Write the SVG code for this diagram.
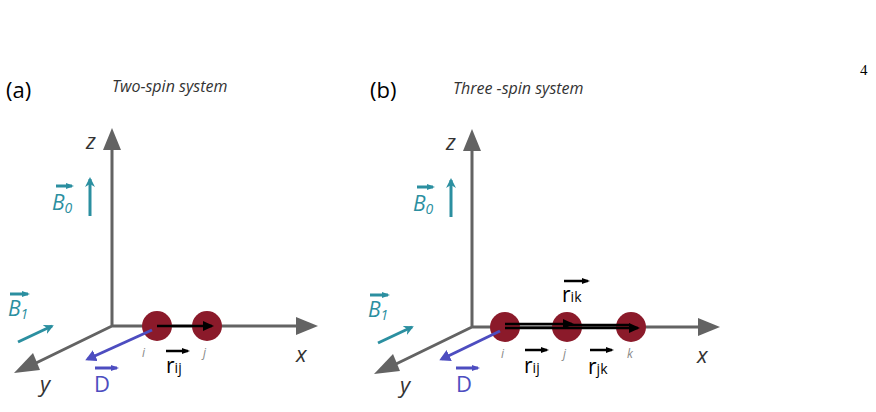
<svg xmlns="http://www.w3.org/2000/svg" width="876" height="412" viewBox="0 0 876 412">
<style>
.ax{stroke:#636363;stroke-width:3;fill:none}
.ah{fill:#636363}
.sp{fill:#8b1a2a}
.t{font-family:"Open Sans","Liberation Sans",sans-serif}
.teal{fill:#2b8fa0;font-family:"Open Sans","Liberation Sans",sans-serif;font-style:italic}
.tl{stroke:#2b8fa0;stroke-width:3}
.bl{stroke:#4d4dc0;stroke-width:3}
.k{stroke:#000;stroke-width:2.5}
.lab{font-family:"Open Sans","Liberation Sans",sans-serif;font-style:italic;fill:#888;font-size:12px}
</style>
<defs>
<marker id="mt" markerWidth="12" markerHeight="12" refX="8" refY="6" orient="auto" markerUnits="userSpaceOnUse"><path d="M0,1L10,6L0,11L3,6z" fill="#2b8fa0"/></marker>
<marker id="mb" markerWidth="12" markerHeight="12" refX="8" refY="6" orient="auto" markerUnits="userSpaceOnUse"><path d="M0,0L11,6L0,12z" fill="#4d4dc0"/></marker>
<marker id="mk" markerWidth="12" markerHeight="10" refX="9" refY="5" orient="auto" markerUnits="userSpaceOnUse"><path d="M0,0L11,5L0,10z" fill="#000"/></marker>
<marker id="ms" markerWidth="8" markerHeight="8" refX="6" refY="4" orient="auto" markerUnits="userSpaceOnUse"><path d="M0,1L8,4L0,7z" fill="#000"/></marker>
<marker id="mbs" markerWidth="8" markerHeight="8" refX="6" refY="4" orient="auto" markerUnits="userSpaceOnUse"><path d="M0,1L8,4L0,7z" fill="#4d4dc0"/></marker>
<marker id="mts" markerWidth="8" markerHeight="8" refX="6" refY="4" orient="auto" markerUnits="userSpaceOnUse"><path d="M0,1L8,4L0,7z" fill="#2b8fa0"/></marker>
</defs>
<text x="860" y="75" font-family="Liberation Serif,serif" font-size="15">4</text>
<g id="panel-a">
<text class="t" x="6" y="98" font-size="22">(a)</text>
<text class="t" x="112" y="92" font-size="16" font-style="italic" fill="#333">Two-spin system</text>
<g id="axes-a">
<path class="ax" d="M112,326V148M112,326H298M112,326L36,363"/>
<path class="ah" d="M103,150L112,128L121,150z"/>
<path class="ah" d="M296,317L318,326L296,335z"/>
<path class="ah" d="M33,353L14,373L40,370z"/>
<text class="t" x="86" y="149" font-size="22" font-style="italic" fill="#333">z</text>
<text class="t" x="296" y="362" font-size="22" font-style="italic" fill="#333">x</text>
<text class="t" x="40" y="392" font-size="22" font-style="italic" fill="#333">y</text>
</g>
<g id="B0-a"><text class="teal" x="52" y="210" font-size="21">B<tspan font-size="14" dy="3">0</tspan></text>
<line class="tl" x1="56" y1="186" x2="72" y2="186" stroke-width="2" marker-end="url(#mts)"/>
<line class="tl" x1="90" y1="216" x2="90" y2="179" marker-end="url(#mt)"/></g>
<g id="B1-a"><text class="teal" x="8" y="316" font-size="21">B<tspan font-size="14" dy="3">1</tspan></text>
<line class="tl" x1="10" y1="294" x2="28" y2="294" stroke-width="2" marker-end="url(#mts)"/>
<line class="tl" x1="18" y1="342" x2="52" y2="326" marker-end="url(#mt)"/></g>
<g id="spin-i-a"><circle class="sp" cx="157" cy="326" r="15"/><text class="lab" x="142" y="357">i</text></g>
<g id="spin-j-a"><circle class="sp" cx="207" cy="326" r="15"/><text class="lab" x="203" y="357">j</text></g>
<g id="conn-a">
<line class="k" x1="157" y1="326" x2="212" y2="326" marker-end="url(#mk)"/>
<line class="bl" x1="152" y1="330" x2="88" y2="359" marker-end="url(#mb)"/>
</g>
<text class="t" x="166" y="373" font-size="21">r<tspan font-size="14">ij</tspan></text>
<line class="k" x1="166" y1="351" x2="188" y2="351" stroke-width="2" marker-end="url(#ms)"/>
<text class="t" x="94" y="392" font-size="22" fill="#4d4dc0">D</text>
<line class="bl" x1="95" y1="368" x2="117" y2="368" stroke-width="2" marker-end="url(#mbs)"/>
</g>
<g id="panel-b">
<text class="t" x="370" y="98" font-size="22">(b)</text>
<text class="t" x="453" y="94" font-size="16" font-style="italic" fill="#333">Three -spin system</text>
<g id="axes-b">
<path class="ax" d="M472,327V149M472,327H700M472,327L396,364"/>
<path class="ah" d="M463,151L472,129L481,151z"/>
<path class="ah" d="M698,318L720,327L698,336z"/>
<path class="ah" d="M393,354L374,374L400,371z"/>
<text class="t" x="446" y="150" font-size="22" font-style="italic" fill="#333">z</text>
<text class="t" x="697" y="363" font-size="22" font-style="italic" fill="#333">x</text>
<text class="t" x="400" y="393" font-size="22" font-style="italic" fill="#333">y</text>
</g>
<g id="B0-b"><text class="teal" x="413" y="211" font-size="21">B<tspan font-size="14" dy="3">0</tspan></text>
<line class="tl" x1="417" y1="187" x2="433" y2="187" stroke-width="2" marker-end="url(#mts)"/>
<line class="tl" x1="451" y1="217" x2="451" y2="180" marker-end="url(#mt)"/></g>
<g id="B1-b"><text class="teal" x="368" y="317" font-size="21">B<tspan font-size="14" dy="3">1</tspan></text>
<line class="tl" x1="370" y1="295" x2="388" y2="295" stroke-width="2" marker-end="url(#mts)"/>
<line class="tl" x1="378" y1="343" x2="412" y2="327" marker-end="url(#mt)"/></g>
<g id="spin-i-b"><circle class="sp" cx="505" cy="327" r="15"/><text class="lab" x="501" y="358">i</text></g>
<g id="spin-j-b"><circle class="sp" cx="567" cy="327" r="15"/><text class="lab" x="563" y="358">j</text></g>
<g id="spin-k-b"><circle class="sp" cx="631" cy="327" r="15"/><text class="lab" x="627" y="358">k</text></g>
<g id="conn-b">
<line class="k" x1="505" y1="324" x2="572" y2="324" marker-end="url(#mk)"/>
<line class="k" x1="505" y1="328" x2="638" y2="328" marker-end="url(#mk)"/>
<line class="k" x1="567" y1="325" x2="630" y2="325"/>
<line class="bl" x1="500" y1="331" x2="442" y2="359" marker-end="url(#mb)"/>
</g>
<text class="t" x="524" y="373" font-size="21">r<tspan font-size="14">ij</tspan></text>
<line class="k" x1="525" y1="350" x2="547" y2="350" stroke-width="2" marker-end="url(#ms)"/>
<text class="t" x="588" y="374" font-size="21">r<tspan font-size="14">jk</tspan></text>
<line class="k" x1="590" y1="350" x2="612" y2="350" stroke-width="2" marker-end="url(#ms)"/>
<text class="t" x="562" y="302" font-size="21">r<tspan font-size="14">ik</tspan></text>
<line class="k" x1="564" y1="281" x2="588" y2="281" stroke-width="2" marker-end="url(#ms)"/>
<text class="t" x="456" y="392" font-size="22" fill="#4d4dc0">D</text>
<line class="bl" x1="456" y1="368" x2="478" y2="368" stroke-width="2" marker-end="url(#mbs)"/>
</g>
</svg>
